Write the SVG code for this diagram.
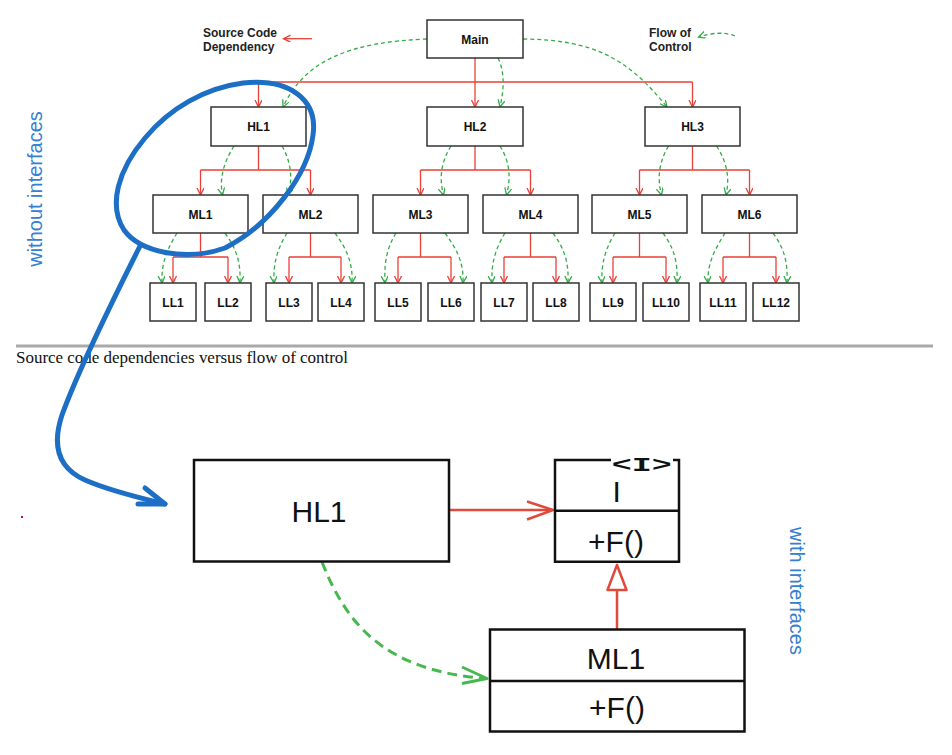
<svg xmlns="http://www.w3.org/2000/svg" width="952" height="755" viewBox="0 0 952 755">
<defs>
<style>
.box{fill:#fff;stroke:#333;stroke-width:1.5}
.lbl{font-family:"Liberation Sans",Arial,Helvetica,sans-serif;font-weight:bold;font-size:12px;fill:#111;text-anchor:middle}
.leg{font-family:"Liberation Sans",Arial,Helvetica,sans-serif;font-weight:bold;font-size:12px;fill:#222}
.red{fill:none;stroke:#ea3f36;stroke-width:1.3}
.grn{fill:none;stroke:#2fae45;stroke-width:1.3;stroke-dasharray:4 3}
.ra{marker-end:url(#ar)}
.ga{marker-end:url(#ag)}
.bbox{fill:#fff;stroke:#111;stroke-width:2.5}
.big{font-family:"Liberation Sans",Arial,Helvetica,sans-serif;font-size:30px;fill:#111;text-anchor:middle}
.side{font-family:"Liberation Sans",Arial,Helvetica,sans-serif;font-size:20px;fill:#3580d0;text-anchor:middle}
.blue{fill:none;stroke:#1c6fc5;stroke-width:5;stroke-linecap:round;stroke-linejoin:round}
</style>
<marker id="ar" markerUnits="userSpaceOnUse" markerWidth="10" markerHeight="10" refX="7" refY="3.5" orient="auto">
<path d="M0,0 L7,3.5 L0,7" fill="none" stroke="#ea3f36" stroke-width="1.3" stroke-dasharray="none"/>
</marker>
<marker id="ag" markerUnits="userSpaceOnUse" markerWidth="10" markerHeight="10" refX="7" refY="3.5" orient="auto">
<path d="M0,0 L7,3.5 L0,7" fill="none" stroke="#2fae45" stroke-width="1.3" stroke-dasharray="none"/>
</marker>
</defs>
<rect width="952" height="755" fill="#fff"/>

<g id="legend">
<text class="leg" x="203" y="36.5">Source Code</text>
<text class="leg" x="203" y="50.5">Dependency</text>
<text class="leg" x="649" y="36.5">Flow of</text>
<text class="leg" x="649" y="51">Control</text>
</g>

<g id="connectors">
<path class="red ra" d="M312,38.7 H283.5"/>
<path class="grn ga" d="M735,36 Q720,30 698.5,37"/>
<!-- Main level -->
<path class="red ra" d="M475,58 V107"/>
<path class="red" d="M258.5,82 H692.5"/>
<path class="red ra" d="M258.5,82 V107"/>
<path class="red ra" d="M692.5,82 V107"/>
<path class="grn ga" d="M427,39 C350,42 305,60 283,107"/>
<path class="grn ga" d="M523,39 C590,40 625,55 667,107"/>
<path class="grn ga" d="M498,58 C505,72 504,90 500,107"/>
<!-- HL level -->
<path class="red" d="M258.5,146 V170 M200.5,170 H310.5"/>
<path class="red ra" d="M200.5,170 V195"/>
<path class="red ra" d="M310.5,170 V195"/>
<path class="red" d="M475,146 V170 M420.5,170 H530.5"/>
<path class="red ra" d="M420.5,170 V195"/>
<path class="red ra" d="M530.5,170 V195"/>
<path class="red" d="M692.5,146 V170 M639.5,170 H749.5"/>
<path class="red ra" d="M639.5,170 V195"/>
<path class="red ra" d="M749.5,170 V195"/>
<path class="grn ga" d="M234,146 C224,162 219,178 222.5,195"/>
<path class="grn ga" d="M282,146 C291,162 293,178 288,195"/>
<path class="grn ga" d="M451,146 C441,162 439,178 443.5,195"/>
<path class="grn ga" d="M500,146 C510,162 511,178 506.5,195"/>
<path class="grn ga" d="M668.5,146 C659,162 657,178 661.5,195"/>
<path class="grn ga" d="M716.5,146 C727,162 730,178 726,195"/>
<!-- ML level -->
<path class="red" d="M200.5,233 V257 M173,257 H228"/>
<path class="red ra" d="M173,257 V283"/>
<path class="red ra" d="M228,257 V283"/>
<path class="red" d="M310.5,233 V257 M289,257 H341"/>
<path class="red ra" d="M289,257 V283"/>
<path class="red ra" d="M341,257 V283"/>
<path class="red" d="M420.5,233 V257 M398,257 H451"/>
<path class="red ra" d="M398,257 V283"/>
<path class="red ra" d="M451,257 V283"/>
<path class="red" d="M530.5,233 V257 M504,257 H556"/>
<path class="red ra" d="M504,257 V283"/>
<path class="red ra" d="M556,257 V283"/>
<path class="red" d="M639.5,233 V257 M613,257 H666"/>
<path class="red ra" d="M613,257 V283"/>
<path class="red ra" d="M666,257 V283"/>
<path class="red" d="M749.5,233 V257 M723,257 H776"/>
<path class="red ra" d="M723,257 V283"/>
<path class="red ra" d="M776,257 V283"/>
<path class="grn ga" d="M177,233 C168,248 161,262 162,283"/>
<path class="grn ga" d="M225,233 C236,248 241,262 240,283"/>
<path class="grn ga" d="M287,233 C278,248 273,262 274,283"/>
<path class="grn ga" d="M335,233 C346,248 353,262 352,283"/>
<path class="grn ga" d="M396,233 C387,248 384,262 385,283"/>
<path class="grn ga" d="M445,233 C456,248 464,262 463,283"/>
<path class="grn ga" d="M505,233 C496,248 491,262 492,283"/>
<path class="grn ga" d="M553,233 C564,248 569,262 568,283"/>
<path class="grn ga" d="M615,233 C606,248 601,262 602,283"/>
<path class="grn ga" d="M663,233 C674,248 678,262 677,283"/>
<path class="grn ga" d="M725,233 C716,248 707,262 708,283"/>
<path class="grn ga" d="M773,233 C784,248 788,262 787,283"/>
<!-- bottom diagram -->
<path d="M449,510 H552" fill="none" stroke="#e04a3c" stroke-width="2.5"/>
<path d="M527,501.5 L553,510 L527,519.5" fill="none" stroke="#e04a3c" stroke-width="2.5" stroke-linejoin="round"/>
<path d="M617,590 V629" fill="none" stroke="#e04a3c" stroke-width="2.5"/>
<polygon points="617,565 607.5,590 626.5,590" fill="#fff" stroke="#e04a3c" stroke-width="2.5" stroke-linejoin="round"/>
<path d="M322,562 C345,620 380,670 485,678.5" fill="none" stroke="#48b84e" stroke-width="3" stroke-dasharray="10 6"/>
<path d="M462,667 L487,678.5 L462,683.5" fill="none" stroke="#48b84e" stroke-width="3" stroke-linejoin="round"/>
</g>

<g id="Main"><rect class="box" x="427" y="20" width="96" height="38"/><text class="lbl" x="475" y="43.5">Main</text></g>
<g id="HL1"><rect class="box" x="211" y="107" width="95" height="39"/><text class="lbl" x="258.5" y="130.8">HL1</text></g>
<g id="HL2"><rect class="box" x="427" y="107" width="96" height="39"/><text class="lbl" x="475" y="130.8">HL2</text></g>
<g id="HL3"><rect class="box" x="645" y="107" width="95" height="39"/><text class="lbl" x="692.5" y="130.8">HL3</text></g>

<g id="ML1"><rect class="box" x="153" y="195" width="95" height="38"/><text class="lbl" x="200.5" y="218.5">ML1</text></g>
<g id="ML2"><rect class="box" x="263" y="195" width="95" height="38"/><text class="lbl" x="310.5" y="218.5">ML2</text></g>
<g id="ML3"><rect class="box" x="373" y="195" width="95" height="38"/><text class="lbl" x="420.5" y="218.5">ML3</text></g>
<g id="ML4"><rect class="box" x="483" y="195" width="95" height="38"/><text class="lbl" x="530.5" y="218.5">ML4</text></g>
<g id="ML5"><rect class="box" x="592" y="195" width="95" height="38"/><text class="lbl" x="639.5" y="218.5">ML5</text></g>
<g id="ML6"><rect class="box" x="702" y="195" width="95" height="38"/><text class="lbl" x="749.5" y="218.5">ML6</text></g>

<g id="LL1"><rect class="box" x="150" y="283" width="46" height="38"/><text class="lbl" x="173" y="306.5">LL1</text></g>
<g id="LL2"><rect class="box" x="205" y="283" width="46" height="38"/><text class="lbl" x="228" y="306.5">LL2</text></g>
<g id="LL3"><rect class="box" x="266" y="283" width="46" height="38"/><text class="lbl" x="289" y="306.5">LL3</text></g>
<g id="LL4"><rect class="box" x="318" y="283" width="46" height="38"/><text class="lbl" x="341" y="306.5">LL4</text></g>
<g id="LL5"><rect class="box" x="375" y="283" width="46" height="38"/><text class="lbl" x="398" y="306.5">LL5</text></g>
<g id="LL6"><rect class="box" x="428" y="283" width="46" height="38"/><text class="lbl" x="451" y="306.5">LL6</text></g>
<g id="LL7"><rect class="box" x="481" y="283" width="46" height="38"/><text class="lbl" x="504" y="306.5">LL7</text></g>
<g id="LL8"><rect class="box" x="533" y="283" width="46" height="38"/><text class="lbl" x="556" y="306.5">LL8</text></g>
<g id="LL9"><rect class="box" x="590" y="283" width="46" height="38"/><text class="lbl" x="613" y="306.5">LL9</text></g>
<g id="LL10"><rect class="box" x="643" y="283" width="46" height="38"/><text class="lbl" x="666" y="306.5">LL10</text></g>
<g id="LL11"><rect class="box" x="700" y="283" width="46" height="38"/><text class="lbl" x="723" y="306.5">LL11</text></g>
<g id="LL12"><rect class="box" x="753" y="283" width="46" height="38"/><text class="lbl" x="776" y="306.5">LL12</text></g>

<g id="caption">
<rect x="16" y="344.5" width="917" height="3" fill="#a9a9ab"/>
<text x="16" y="362.5" font-family="'Liberation Serif','Times New Roman',serif" font-size="17" fill="#111" textLength="332">Source code dependencies versus flow of control</text>
</g>

<g id="side-labels">
<text class="side" transform="translate(41.5,189) rotate(-90)">without interfaces</text>
<text class="side" transform="translate(789.5,591) rotate(90)">with interfaces</text>
</g>

<g id="HL1-big">
<rect class="bbox" x="194" y="460" width="255" height="101.5"/>
<text class="big" x="319" y="521.5" font-size="29">HL1</text>
</g>

<g id="I-interface">
<rect x="555" y="460" width="124" height="101.7" fill="#fff"/>
<path d="M611,460 H555 V561.7 H679 V460 H673 M555,510.7 H679" fill="none" stroke="#111" stroke-width="2.5"/>
<text x="641.7" y="471" font-family="'Liberation Mono','Courier New',monospace" font-weight="bold" font-size="21" fill="#111" text-anchor="middle" textLength="60" lengthAdjust="spacingAndGlyphs">&lt;I&gt;</text>
<text class="big" x="616.7" y="502" font-size="26">I</text>
<text class="big" x="616" y="551.5">+F()</text>
</g>

<g id="ML1-big">
<rect class="bbox" x="490" y="629.5" width="254.5" height="102"/>
<path d="M490,681 H744.5" stroke="#111" stroke-width="2.5"/>
<text class="big" x="616" y="669.3" font-size="31">ML1</text>
<text class="big" x="617" y="718.3">+F()</text>
</g>

<g id="annotation">
<path class="blue" d="M243,83 C290,78 318,100 313,135 C308,175 270,225 225,248 C185,262 140,252 124,230 C108,205 118,170 145,138 C170,108 205,88 243,83 Z"/>
<path class="blue" d="M140,246 C118,290 80,365 62,415 C52,445 58,468 85,480 C110,491 140,498 165,504"/>
<path class="blue" d="M145,488 L165,504 L138,504"/>
<rect x="21" y="516" width="2" height="2" fill="#c8102e"/>
</g>
</svg>
